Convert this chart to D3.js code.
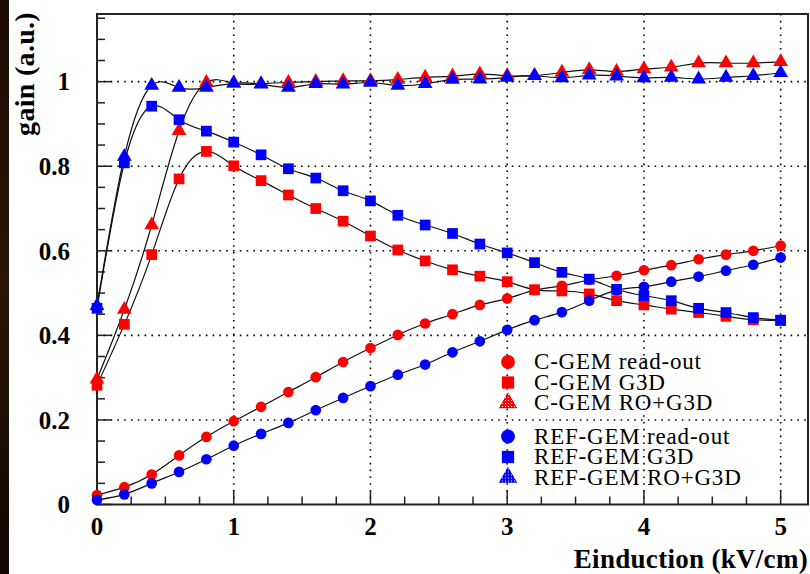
<!DOCTYPE html>
<html>
<head>
<meta charset="utf-8">
<script src="https://cdn.jsdelivr.net/npm/d3@7"></script>
<style>
  html, body { margin: 0; padding: 0; background: #fff; }
  svg { display: block; }
</style>
</head>
<body>
<div id="chart"></div>
<script>
// Einduction values (kV/cm)
const xValues = [0, 0.2, 0.4, 0.6, 0.8, 1.0, 1.2, 1.4, 1.6, 1.8, 2.0, 2.2, 2.4, 2.6,
                 2.8, 3.0, 3.2, 3.4, 3.6, 3.8, 4.0, 4.2, 4.4, 4.6, 4.8, 5.0];

const cgemReadout = [0.022, 0.041, 0.071, 0.116, 0.160, 0.197, 0.231, 0.266, 0.301, 0.337, 0.370,
                     0.401, 0.428, 0.450, 0.472, 0.487, 0.507, 0.517, 0.531, 0.541, 0.554, 0.566,
                     0.580, 0.591, 0.600, 0.612];
const cgemG3D = [0.282, 0.426, 0.591, 0.770, 0.835, 0.801, 0.766, 0.732, 0.700, 0.670, 0.635,
                 0.602, 0.576, 0.555, 0.540, 0.527, 0.508, 0.505, 0.498, 0.482, 0.472, 0.462,
                 0.454, 0.445, 0.437, 0.435];
const cgemROG3D = [0.296, 0.461, 0.661, 0.884, 0.998, 0.996, 0.995, 0.998, 1.000, 1.002, 1.002,
                   1.005, 1.010, 1.013, 1.018, 1.014, 1.014, 1.022, 1.028, 1.024, 1.030, 1.034,
                   1.044, 1.044, 1.044, 1.047];
const refReadout = [0.011, 0.024, 0.050, 0.077, 0.107, 0.139, 0.167, 0.193, 0.223, 0.252, 0.280,
                    0.307, 0.331, 0.360, 0.386, 0.413, 0.436, 0.455, 0.482, 0.507, 0.515, 0.527,
                    0.539, 0.553, 0.567, 0.584];
const refG3D = [0.464, 0.808, 0.942, 0.910, 0.883, 0.857, 0.827, 0.794, 0.772, 0.742, 0.718,
                0.684, 0.661, 0.641, 0.616, 0.595, 0.572, 0.549, 0.533, 0.509, 0.494, 0.482,
                0.464, 0.454, 0.442, 0.436];
const refROG3D = [0.470, 0.823, 0.991, 0.986, 0.986, 0.996, 0.994, 0.986, 0.995, 0.994, 0.998,
                  0.991, 0.995, 1.005, 1.006, 1.010, 1.014, 1.009, 1.015, 1.013, 1.009, 1.010,
                  1.006, 1.010, 1.014, 1.021];

const xTicks = [0, 1, 2, 3, 4, 5];
const yTicks = [0, 0.2, 0.4, 0.6, 0.8, 1];
const yTickLabels = ["0", "0.2", "0.4", "0.6", "0.8", "1"];

const series = [
  { name: "C-GEM read-out",   values: cgemReadout, color: "#ff0000", shape: "circle" },
  { name: "C-GEM G3D",        values: cgemG3D,     color: "#ff0000", shape: "square" },
  { name: "C-GEM RO+G3D",     values: cgemROG3D,   color: "#ff0000", shape: "triangle" },
  { name: "REF-GEM read-out", values: refReadout,  color: "#0000ff", shape: "circle" },
  { name: "REF-GEM G3D",      values: refG3D,      color: "#0000ff", shape: "square" },
  { name: "REF-GEM RO+G3D",   values: refROG3D,    color: "#0000ff", shape: "triangle" }
];

const W = 810, H = 574;
const plot = { left: 97, right: 808, top: 14, bottom: 504.5 };

const svg = d3.select("#chart").append("svg")
  .attr("width", W)
  .attr("height", H);

// dark strip on the left edge
const defs = svg.append("defs");
const grad = defs.append("linearGradient").attr("id", "strip").attr("x1", 0).attr("x2", 0).attr("y1", 0).attr("y2", 1);
grad.append("stop").attr("offset", "0%").attr("stop-color", "#1c0c04");
grad.append("stop").attr("offset", "50%").attr("stop-color", "#2a1507");
grad.append("stop").attr("offset", "100%").attr("stop-color", "#120804");
svg.append("rect").attr("x", 0).attr("y", 0).attr("width", 9).attr("height", H).attr("fill", "url(#strip)");

// hatch patterns for the triangle legend markers
["#ff0000", "#0000ff"].forEach((c, i) => {
  const p = defs.append("pattern").attr("id", "hatch" + i)
    .attr("patternUnits", "userSpaceOnUse").attr("width", 3).attr("height", 3);
  p.append("rect").attr("width", 3).attr("height", 3).attr("fill", c);
  p.append("rect").attr("width", 1).attr("height", 1).attr("fill", "#fff");
});

const x = d3.scaleLinear().domain([0, 5.2]).range([plot.left, plot.right]);
const y = d3.scaleLinear().domain([0, 1.16]).range([plot.bottom, plot.top]);

// dotted grid
const grid = svg.append("g").attr("stroke", "#000").attr("stroke-width", 1.6)
  .attr("stroke-dasharray", "1.6,5.2");
grid.selectAll("line.gx").data(xTicks.filter(d => d > 0)).join("line")
  .attr("x1", d => x(d)).attr("x2", d => x(d))
  .attr("y1", plot.top).attr("y2", plot.bottom);
grid.selectAll("line.gy").data(yTicks.filter(d => d > 0)).join("line")
  .attr("x1", plot.left).attr("x2", plot.right)
  .attr("y1", d => y(d)).attr("y2", d => y(d));

// ticks (inward, major + minor)
const axisG = svg.append("g").attr("stroke", "#222").attr("stroke-width", 1.5);
const xMinor = d3.range(0, 21).map(i => i * 0.25);
axisG.selectAll("line.xt").data(xMinor).join("line")
  .attr("x1", d => x(d)).attr("x2", d => x(d))
  .attr("y1", plot.bottom)
  .attr("y2", d => plot.bottom - (Math.abs(d - Math.round(d)) < 1e-6 ? 14 : 8));
const yMinor = d3.range(0, 24).map(i => i * 0.05);
axisG.selectAll("line.yt").data(yMinor).join("line")
  .attr("y1", d => y(d)).attr("y2", d => y(d))
  .attr("x1", plot.left)
  .attr("x2", d => plot.left + (Math.abs(d * 5 - Math.round(d * 5)) < 1e-6 ? 14 : 8));

// frame
svg.append("rect")
  .attr("x", plot.left).attr("y", plot.top)
  .attr("width", plot.right - plot.left).attr("height", plot.bottom - plot.top)
  .attr("fill", "none").attr("stroke", "#222").attr("stroke-width", 2);

// tick labels
const labelFont = "'Liberation Serif', 'Times New Roman', serif";
svg.append("g").selectAll("text").data(xTicks).join("text")
  .attr("x", d => x(d)).attr("y", 535)
  .attr("text-anchor", "middle")
  .attr("font-family", labelFont).attr("font-weight", "bold").attr("font-size", 25)
  .text(d => d);
svg.append("g").selectAll("text").data(yTicks).join("text")
  .attr("x", 70).attr("y", d => y(d))
  .attr("dy", "0.35em")
  .attr("text-anchor", "end")
  .attr("font-family", labelFont).attr("font-weight", "bold").attr("font-size", 25)
  .text((d, i) => yTickLabels[i]);

// axis titles
svg.append("text")
  .attr("x", 808).attr("y", 568)
  .attr("text-anchor", "end")
  .attr("font-family", labelFont).attr("font-weight", "bold").attr("font-size", 27)
  .attr("letter-spacing", 0.3)
  .text("Einduction (kV/cm)");
svg.append("text")
  .attr("transform", "translate(34,12) rotate(-90)")
  .attr("text-anchor", "end")
  .attr("font-family", labelFont).attr("font-weight", "bold").attr("font-size", 28)
  .attr("letter-spacing", 0.3)
  .text("gain (a.u.)");

// curves
const line = d3.line()
  .x((d, i) => x(xValues[i]))
  .y(d => y(d))
  .curve(d3.curveNatural);
svg.append("g").selectAll("path").data(series).join("path")
  .attr("d", s => line(s.values))
  .attr("fill", "none").attr("stroke", "#111").attr("stroke-width", 1.2);

// markers
const symbolOf = { circle: d3.symbolCircle, square: d3.symbolSquare, triangle: d3.symbolTriangle };
const sizeOf = { circle: 90, square: 115, triangle: 95 };
series.forEach(s => {
  svg.append("g").selectAll("path").data(s.values).join("path")
    .attr("transform", (d, i) => `translate(${x(xValues[i])},${y(d)})`)
    .attr("d", d3.symbol(symbolOf[s.shape], sizeOf[s.shape]))
    .attr("fill", s.color);
});

// legend
const legend = svg.append("g");
const legendY = [362, 382.5, 403, 436.5, 457, 477.5];
series.forEach((s, i) => {
  const g = legend.append("g").attr("transform", `translate(508,${legendY[i]})`);
  g.append("path")
    .attr("d", d3.symbol(symbolOf[s.shape], 150))
    .attr("fill", s.shape === "triangle" ? `url(#hatch${i < 3 ? 0 : 1})` : s.color);
  g.append("text")
    .attr("x", 26).attr("y", 7)
    .attr("font-family", labelFont).attr("font-size", 23)
    .attr("letter-spacing", 0.8)
    .text(s.name);
});
</script>
</body>
</html>
